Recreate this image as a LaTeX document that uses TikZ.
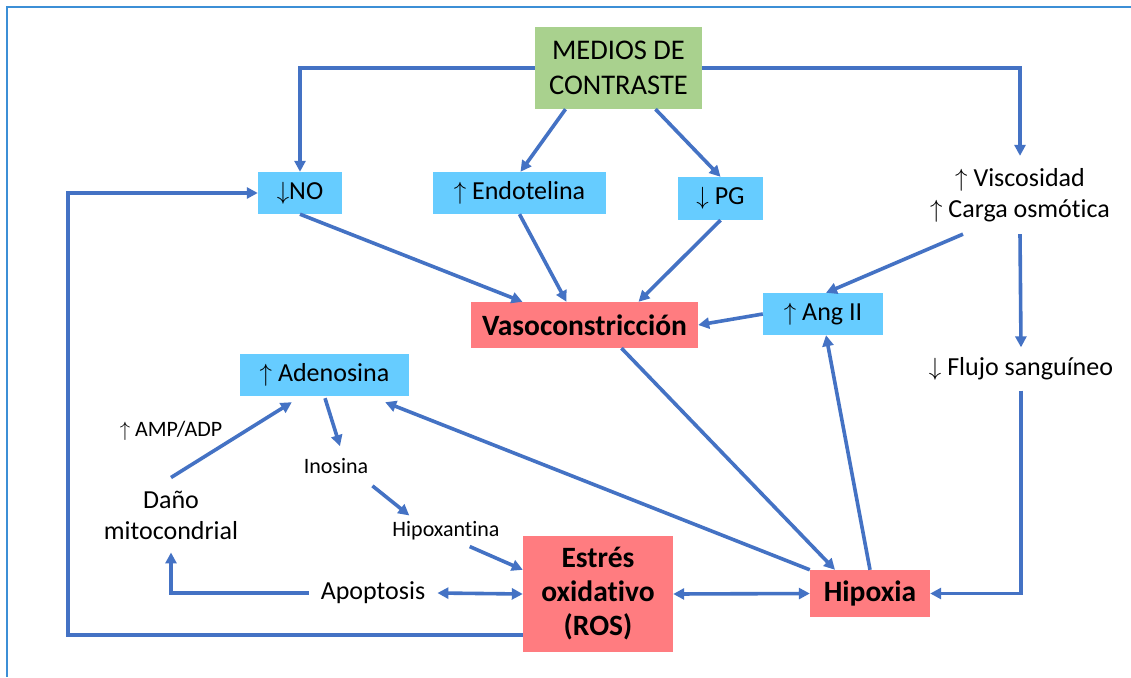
\documentclass[tikz,border=0pt]{standalone}
\usepackage{fontspec}
\setmainfont{Carlito}[Ligatures=NoCommon]
\usetikzlibrary{arrows.meta,calc}
\definecolor{ac}{HTML}{4472C4}
\definecolor{boxblue}{HTML}{66CCFF}
\definecolor{boxred}{HTML}{FF7C80}
\definecolor{boxgreen}{HTML}{A9D18E}
\definecolor{framec}{HTML}{3C8FD6}
\newcommand\upar{$\uparrow$}
\newcommand\dnar{$\downarrow$}
\tikzset{
  arr/.style={draw=ac, line width=3.6pt, -{Triangle[length=11pt,width=11pt]}},
  darr/.style={draw=ac, line width=3.6pt, {Triangle[length=11pt,width=11pt]}-{Triangle[length=11pt,width=11pt]}},
  boxbase/.style={inner sep=0pt, align=center, font=\fontsize{26}{31}\selectfont},
  bluebox/.style={boxbase, fill=boxblue},
  redbox/.style={boxbase, fill=boxred, font=\fontsize{29.5}{34}\selectfont\bfseries},
  greenbox/.style={boxbase, fill=boxgreen, font=\fontsize{28.5}{35}\selectfont},
  txt/.style={align=center, inner xsep=12pt, inner ysep=12pt, font=\fontsize{26}{31}\selectfont},
  small/.style={align=center, inner xsep=4pt, inner ysep=6pt, font=\fontsize{22}{26}\selectfont},
}
\begin{document}
\begin{tikzpicture}[x=1pt,y=-1pt]
\useasboundingbox (0,0) rectangle (1131,677);
\fill[white] (0,0) rectangle (1131,677);
% outer frame
\draw[framec, line width=2pt] (1131,7) -- (7,7) -- (7,677);

% boxes
\node[greenbox, minimum width=167pt, minimum height=82pt] (med) at (618.5,68) {MEDIOS DE\\CONTRASTE};
\node[bluebox, minimum width=84pt, minimum height=42pt] (no) at (300,193) {\dnar NO};
\node[bluebox, minimum width=173pt, minimum height=42pt] (endo) at (519.5,193) {\upar\ Endotelina};
\node[bluebox, minimum width=85pt, minimum height=43pt] (pg) at (720.5,198.5) {\dnar\ PG};
\node[redbox, minimum width=227pt, minimum height=46pt] (vaso) at (584.5,325) {Vasoconstricción};
\node[bluebox, minimum width=120pt, minimum height=42pt] (ang) at (823,314) {\upar\ Ang II};
\node[bluebox, minimum width=169pt, minimum height=42pt] (ade) at (324.5,375) {\upar\ Adenosina};
\node[redbox, minimum width=150pt, minimum height=116pt] (ros) at (598,594) {Estrés\\oxidativo\\(ROS)};
\node[redbox, minimum width=120pt, minimum height=47pt] (hip) at (870,593.5) {Hipoxia};

% plain text nodes
\node[txt] (visc) at (1020,195) {\upar\ Viscosidad\\\upar\ Carga osmótica};
\node[txt, inner ysep=10pt] (flujo) at (1021,369) {\dnar\ Flujo sanguíneo};
\node[txt, inner ysep=13pt] (dano) at (171,515) {Daño\\mitocondrial};
\node[txt] (apo) at (373,593) {Apoptosis};
\node[small] (amp) at (171,431) {\upar\ AMP/ADP};
\node[small, inner ysep=12pt] (ino) at (336,466) {Inosina};
\node[small] (hipx) at (446,531) {Hipoxantina};

% connectors from the contrast media
\draw[arr] (med.west) -| (no.north);
\draw[arr] (med.east) -| (visc.north);
\draw[arr] ($(med.south)+(-53,0)$) -- ($(endo.north)+(1,0)$);
\draw[arr] ($(med.south)+(37,0)$) -- (pg.north);

% towards vasoconstriction
\draw[arr] (no.south) -- ($(vaso.north)+(-62,0)$);
\draw[arr] (endo.south) -- ($(vaso.north)+(-18,0)$);
\draw[arr] (pg.south) -- ($(vaso.north)+(54,0)$);
\draw[arr] ($(visc.south)+(-57,0)$) -- ($(ang.north)+(3,0)$);
\draw[arr] (ang.west) -- (vaso.east);

% hypoxia loop
\draw[arr] ($(vaso.south)+(37,0)$) -- ($(hip.north)+(-35,0)$);
\draw[arr] (hip.north west) -- ($(ade.south east)+(-24,6)$);
\draw[arr] (hip.north) -- ($(ang.south)+(3,0)$);
\draw[arr] (visc.south) -- (flujo.north);
\draw[arr] (flujo.south) |- (hip.east);
\draw[darr] (ros.east) -- (hip.west);

% oxidative stress side
\draw[darr] (apo.east) -- (ros.west);
\draw[arr] (apo.west) -| (dano.south);
\draw[arr] (dano.north) -- ($(ade.south west)+(52,6)$);
\draw[arr] ($(ade.south)+(0.5,2)$) -- ($(ino.north)+(4,0)$);
\draw[arr] (ino.south east) -- ($(hipx.north west)+(21,0)$);
\draw[arr] ($(hipx.south east)+(-34,0)$) -- ($(ros.north west)+(0,34)$);
\draw[arr] ($(ros.south west)+(0,-17)$) -| ($(no.west)+(-190,0)$) -- (no.west);
\end{tikzpicture}
\end{document}
